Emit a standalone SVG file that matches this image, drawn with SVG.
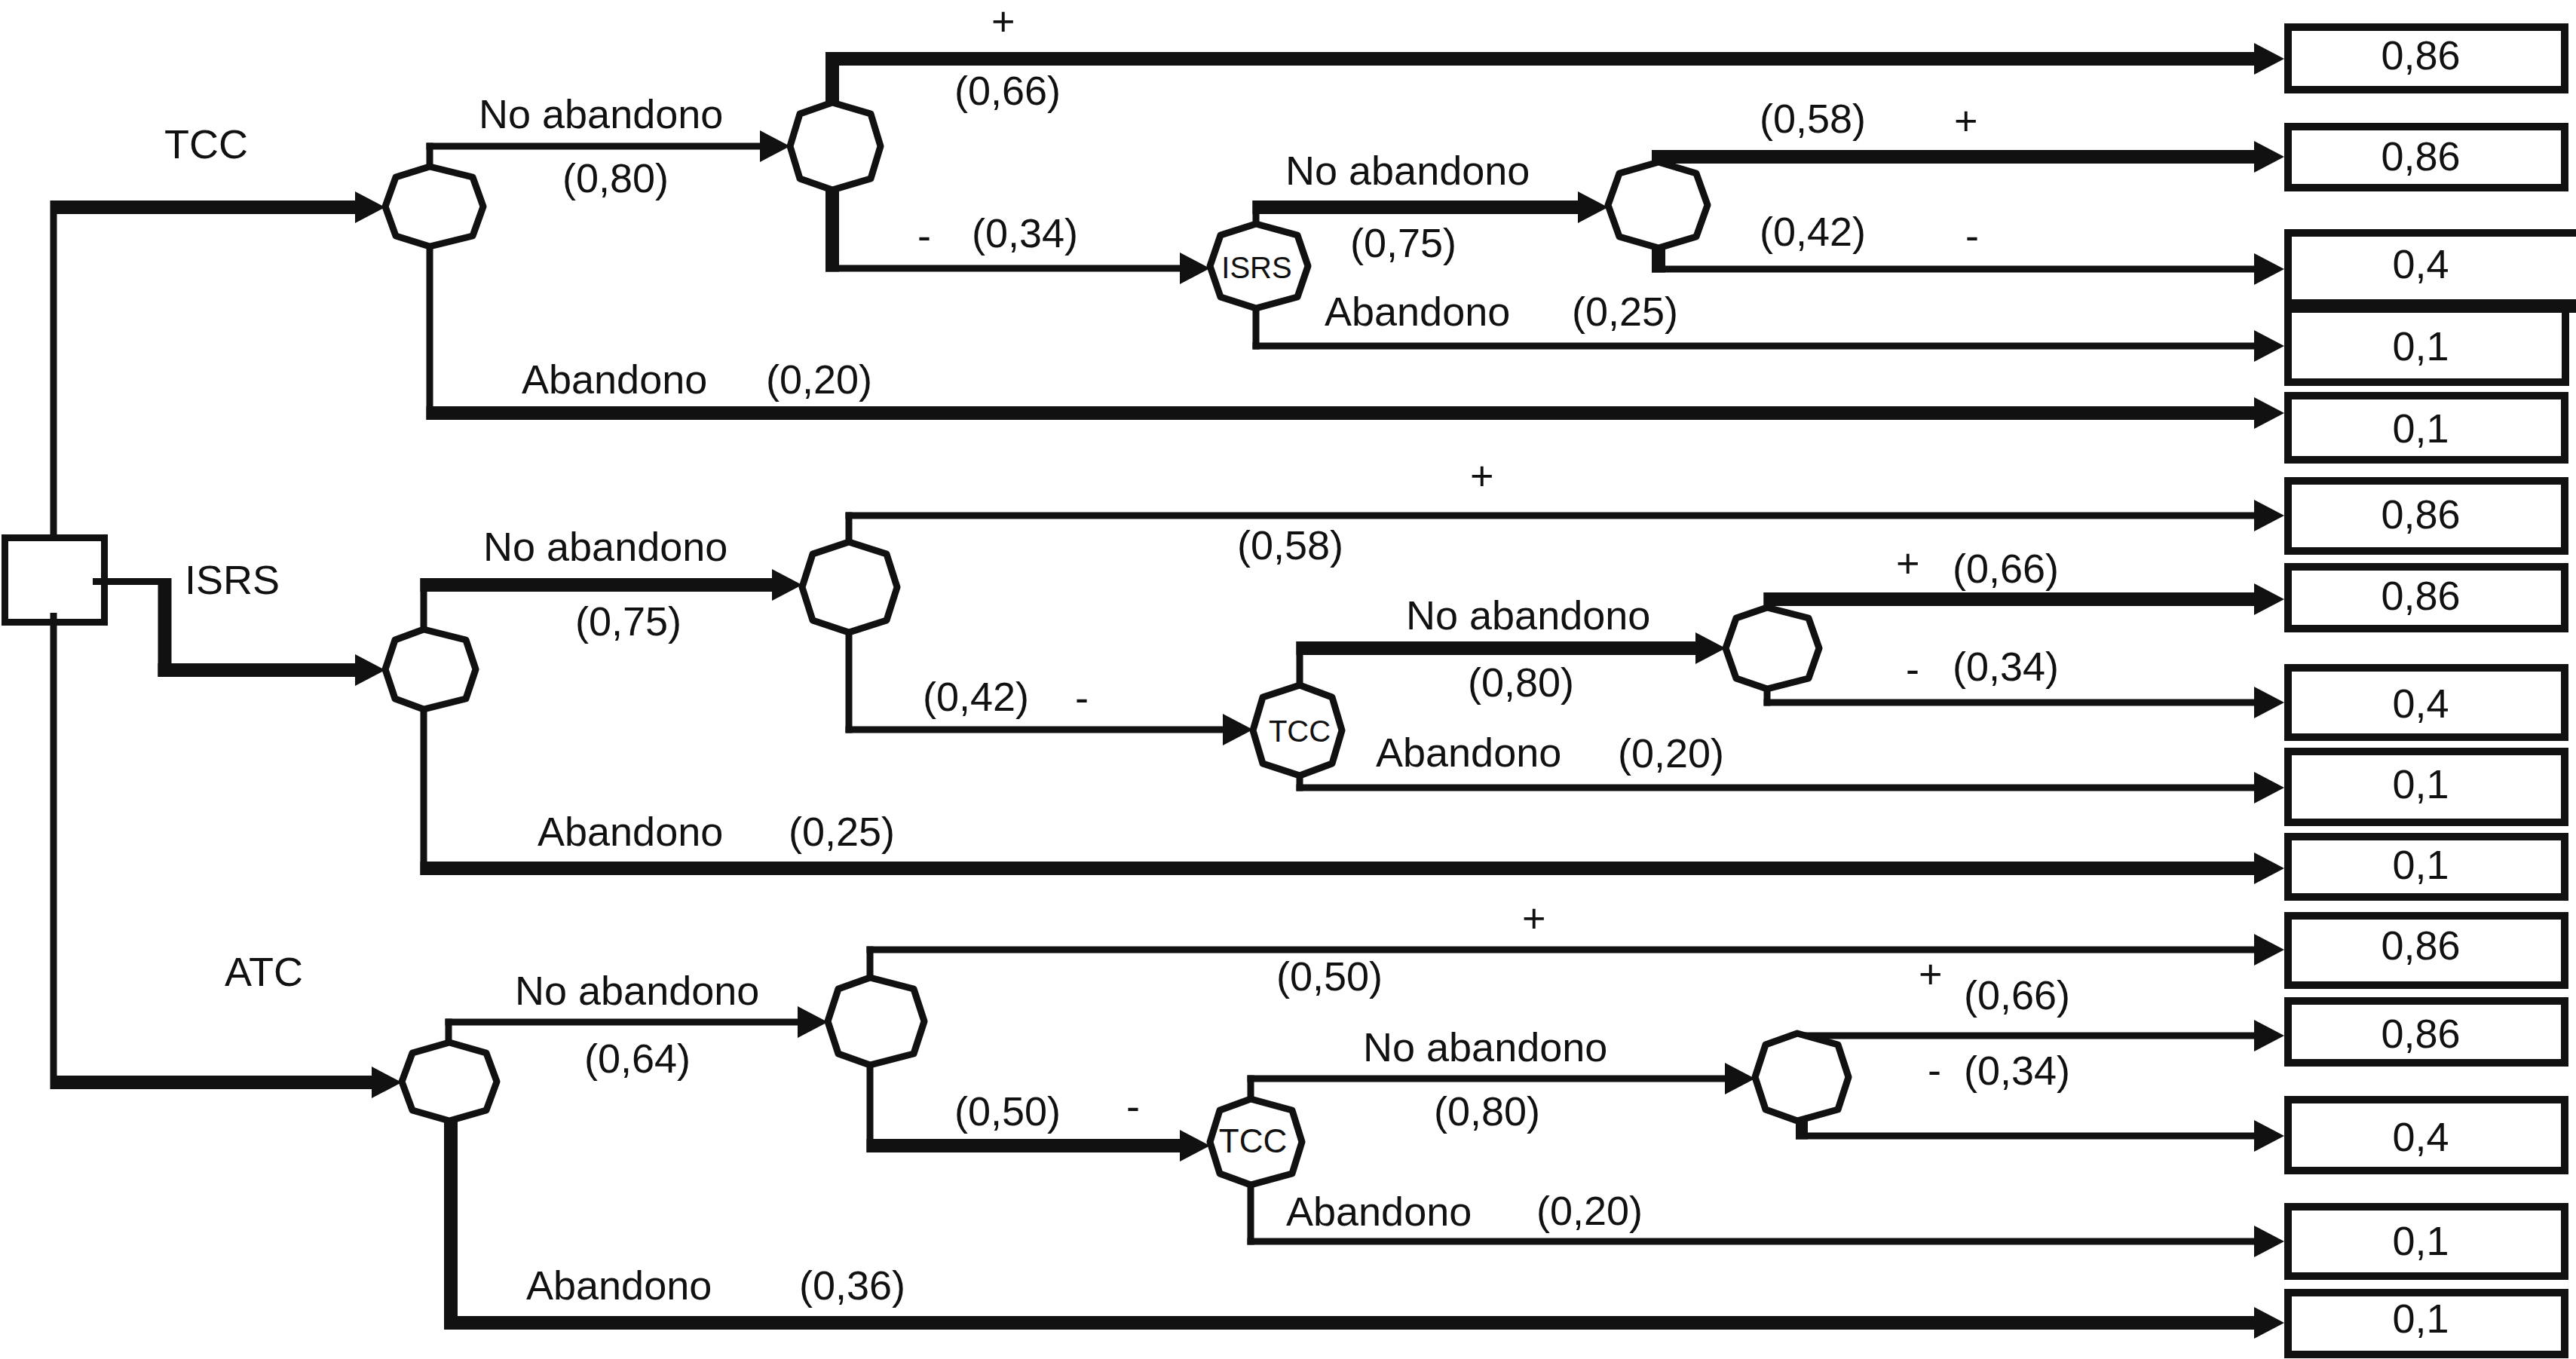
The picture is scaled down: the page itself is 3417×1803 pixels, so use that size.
<svg xmlns="http://www.w3.org/2000/svg" width="3417" height="1803" viewBox="0 0 3417 1803">
<style>
.tn{fill:none;stroke:#111;stroke-width:9}
.tk{fill:none;stroke:#111;stroke-width:18}
.ar{marker-end:url(#ah)}
.nd{fill:#fff;stroke:#111;stroke-width:9;stroke-linejoin:round}
.bx{fill:#fff;stroke:#111;stroke-width:10}
text{font-family:"Liberation Sans",Arial,sans-serif;fill:#111}
.lb{font-size:54px}
.bt{font-size:54px;text-anchor:middle}
.nt{font-size:40px;text-anchor:middle}
</style>
<defs>
<marker id="ah" markerUnits="userSpaceOnUse" markerWidth="40" markerHeight="42" viewBox="0 0 40 42" refX="15" refY="21" orient="auto">
<path d="M0,0 L40,21 L0,42 Z" fill="#111"/>
</marker>
</defs>
<rect width="3417" height="1803" fill="#fff"/>
<g id="connectors">
<path class="tn" d="M71,266 V714"/>
<path class="tk ar" d="M67,275 H486"/>
<path class="tn" d="M570,274 V189.5"/><path class="tn ar" d="M565.5,194 H1023"/>
<path class="tn" d="M570,274 V557"/><path class="tk ar" d="M565.5,548 H3005"/>
<path class="tk" d="M1104,194 V69"/><path class="tk ar" d="M1095,78 H3005"/>
<path class="tk" d="M1104,194 V360.5"/><path class="tn ar" d="M1095,356 H1580"/>
<path class="tn" d="M1666,353 V266"/><path class="tk ar" d="M1661.5,275 H2108"/>
<path class="tn" d="M1666,353 V463.5"/><path class="tn ar" d="M1661.5,459 H3005"/>
<path class="tk" d="M2200,272 V199"/><path class="tk ar" d="M2191,208 H3005"/>
<path class="tk" d="M2200,272 V361.5"/><path class="tn ar" d="M2191,357 H3005"/>
<path class="tn" d="M71,813 V1445"/>
<path class="tn" d="M123,771.5 H227"/><path class="tk" d="M218.5,767 V898"/><path class="tk ar" d="M209.5,889 H486"/>
<path class="tn" d="M562,888 V767"/><path class="tk ar" d="M557.5,776 H1039"/>
<path class="tn" d="M562,888 V1161"/><path class="tk ar" d="M557.5,1152 H3005"/>
<path class="tn" d="M1126,779 V679.5"/><path class="tn ar" d="M1121.5,684 H3005"/>
<path class="tn" d="M1126,779 V972.5"/><path class="tn ar" d="M1121.5,968 H1637"/>
<path class="tn" d="M1724,969 V851"/><path class="tk ar" d="M1719.5,860 H2264"/>
<path class="tn" d="M1724,969 V1049.5"/><path class="tn ar" d="M1719.5,1045 H3005"/>
<path class="tn" d="M2344,860 V786"/><path class="tk ar" d="M2339.5,795 H3005"/>
<path class="tn" d="M2344,860 V936.5"/><path class="tn ar" d="M2339.5,932 H3005"/>
<path class="tk ar" d="M67,1436 H508"/>
<path class="tn" d="M595,1435 V1351.5"/><path class="tn ar" d="M590.5,1356 H1073"/>
<path class="tk" d="M598,1435 V1764"/><path class="tk ar" d="M589,1755 H3005"/>
<path class="tn" d="M1154,1355 V1255.5"/><path class="tn ar" d="M1149.5,1260 H3005"/>
<path class="tn" d="M1154,1355 V1529"/><path class="tk ar" d="M1149.5,1520 H1580"/>
<path class="tn" d="M1659,1515 V1426.5"/><path class="tn ar" d="M1654.5,1431 H2303"/>
<path class="tn" d="M1659,1515 V1651.5"/><path class="tn ar" d="M1654.5,1647 H3005"/>
<path class="tn" d="M2384,1429 V1369.5"/><path class="tn ar" d="M2379.5,1374 H3005"/>
<path class="tk" style="stroke-width:16" d="M2390,1429 V1511.5"/><path class="tn ar" d="M2382,1507 H3005"/>
</g>
<g id="decision"><rect x="6.5" y="713.5" width="132" height="112" fill="#fff" stroke="#111" stroke-width="9"/><path class="tn" d="M71,813 V826"/><path class="tn" d="M123,771.5 H140"/></g>
<g id="nodeA1"><polygon class="nd" points="511,274 525,235 570,221 627,235 641,274 627,313 570,327 525,313"/></g>
<g id="nodeA2"><polygon class="nd" points="1048,194 1061,151 1104,136 1155,151 1168,194 1155,237 1104,252 1061,237"/></g>
<g id="nodeA-ISRS"><polygon class="nd" points="1605,353 1619,312 1666,297 1721,312 1735,353 1721,394 1666,409 1619,394"/><text class="nt" x="1667" y="369">ISRS</text></g>
<g id="nodeA3"><polygon class="nd" points="2133,272 2148,230 2200,215 2250,230 2265,272 2250,314 2200,329 2148,314"/></g>
<g id="nodeB1"><polygon class="nd" points="511,888 524,849 562,835 618,849 631,888 618,927 562,941 524,927"/></g>
<g id="nodeB2"><polygon class="nd" points="1064,779 1078,735 1126,719 1176,735 1190,779 1176,823 1126,839 1078,823"/></g>
<g id="nodeB-TCC"><polygon class="nd" points="1662,969 1675,925 1724,909 1767,925 1780,969 1767,1013 1724,1029 1675,1013"/><text class="nt" x="1724" y="984">TCC</text></g>
<g id="nodeB3"><polygon class="nd" points="2289,860 2303,820 2344,806 2399,820 2413,860 2399,900 2344,914 2303,900"/></g>
<g id="nodeC1"><polygon class="nd" points="533,1435 547,1397 596,1383 645,1397 659,1435 645,1473 596,1487 547,1473"/></g>
<g id="nodeC2"><polygon class="nd" points="1098,1355 1112,1312 1154,1297 1212,1312 1226,1355 1212,1398 1154,1413 1112,1398"/></g>
<g id="nodeC-TCC"><polygon class="nd" points="1605,1515 1618,1473 1659,1458 1714,1473 1727,1515 1714,1557 1659,1572 1618,1557"/><text class="nt" x="1662" y="1529" style="font-size:44px">TCC</text></g>
<g id="nodeC3"><polygon class="nd" points="2328,1429 2342,1386 2384,1371 2438,1386 2452,1429 2438,1472 2384,1487 2342,1472"/></g>
<g id="box1"><rect class="bx" x="3035" y="36" width="367" height="83"/><text class="bt" x="3211" y="92">0,86</text></g>
<g id="box2"><rect class="bx" x="3035" y="168" width="367" height="81"/><text class="bt" x="3211" y="226">0,86</text></g>
<g id="box3"><rect class="bx" x="3035" y="309" width="390" height="97"/><text class="bt" x="3211" y="369">0,4</text></g>
<g id="box4"><rect class="bx" x="3035" y="402" width="368" height="105"/><rect x="3030" y="397" width="387" height="18" fill="#111"/><text class="bt" x="3211" y="478">0,1</text></g>
<g id="box5"><rect class="bx" x="3035" y="525" width="367" height="85"/><text class="bt" x="3211" y="587">0,1</text></g>
<g id="box6"><rect class="bx" x="3035" y="638" width="367" height="93"/><text class="bt" x="3211" y="701">0,86</text></g>
<g id="box7"><rect class="bx" x="3035" y="752" width="367" height="82"/><text class="bt" x="3211" y="809">0,86</text></g>
<g id="box8"><rect class="bx" x="3035" y="886" width="367" height="92"/><text class="bt" x="3211" y="952">0,4</text></g>
<g id="box9"><rect class="bx" x="3035" y="997" width="367" height="94"/><text class="bt" x="3211" y="1059">0,1</text></g>
<g id="box10"><rect class="bx" x="3035" y="1110" width="367" height="80"/><text class="bt" x="3211" y="1166">0,1</text></g>
<g id="box11"><rect class="bx" x="3035" y="1215" width="367" height="92"/><text class="bt" x="3211" y="1273">0,86</text></g>
<g id="box12"><rect class="bx" x="3035" y="1328" width="367" height="82"/><text class="bt" x="3211" y="1390">0,86</text></g>
<g id="box13"><rect class="bx" x="3035" y="1459" width="367" height="94"/><text class="bt" x="3211" y="1527">0,4</text></g>
<g id="box14"><rect class="bx" x="3035" y="1601" width="367" height="92"/><text class="bt" x="3211" y="1665">0,1</text></g>
<g id="box15"><rect class="bx" x="3035" y="1715" width="367" height="82"/><text class="bt" x="3211" y="1768">0,1</text></g>
<g id="labels">
<text class="lb" x="218" y="210">TCC</text>
<text class="lb" x="635" y="170">No abandono</text>
<text class="lb" x="746" y="255">(0,80)</text>
<text class="lb" x="1315" y="47">+</text>
<text class="lb" x="1266" y="139">(0,66)</text>
<text class="lb" x="1217" y="331">-</text>
<text class="lb" x="1289" y="328">(0,34)</text>
<text class="lb" x="1705" y="245">No abandono</text>
<text class="lb" x="1791" y="341">(0,75)</text>
<text class="lb" x="1757" y="432">Abandono</text>
<text class="lb" x="2085" y="432">(0,25)</text>
<text class="lb" x="2334" y="176">(0,58)</text>
<text class="lb" x="2592" y="179">+</text>
<text class="lb" x="2334" y="326">(0,42)</text>
<text class="lb" x="2607" y="331">-</text>
<text class="lb" x="692" y="522">Abandono</text>
<text class="lb" x="1016" y="522">(0,20)</text>
<text class="lb" x="245" y="788">ISRS</text>
<text class="lb" x="641" y="744">No abandono</text>
<text class="lb" x="763" y="843">(0,75)</text>
<text class="lb" x="713" y="1122">Abandono</text>
<text class="lb" x="1046" y="1122">(0,25)</text>
<text class="lb" x="1950" y="650">+</text>
<text class="lb" x="1641" y="742">(0,58)</text>
<text class="lb" x="1224" y="943">(0,42)</text>
<text class="lb" x="1426" y="944">-</text>
<text class="lb" x="1865" y="835">No abandono</text>
<text class="lb" x="1947" y="924">(0,80)</text>
<text class="lb" x="1825" y="1017">Abandono</text>
<text class="lb" x="2146" y="1018">(0,20)</text>
<text class="lb" x="2515" y="766">+</text>
<text class="lb" x="2590" y="773">(0,66)</text>
<text class="lb" x="2528" y="906">-</text>
<text class="lb" x="2590" y="903">(0,34)</text>
<text class="lb" x="298" y="1308">ATC</text>
<text class="lb" x="683" y="1333">No abandono</text>
<text class="lb" x="775" y="1423">(0,64)</text>
<text class="lb" x="698" y="1724">Abandono</text>
<text class="lb" x="1060" y="1724">(0,36)</text>
<text class="lb" x="2019" y="1237">+</text>
<text class="lb" x="1693" y="1314">(0,50)</text>
<text class="lb" x="1266" y="1493">(0,50)</text>
<text class="lb" x="1494" y="1486">-</text>
<text class="lb" x="1808" y="1408">No abandono</text>
<text class="lb" x="1902" y="1493">(0,80)</text>
<text class="lb" x="1706" y="1626">Abandono</text>
<text class="lb" x="2038" y="1625">(0,20)</text>
<text class="lb" x="2545" y="1311">+</text>
<text class="lb" x="2605" y="1339">(0,66)</text>
<text class="lb" x="2557" y="1438">-</text>
<text class="lb" x="2605" y="1439">(0,34)</text>
</g>
</svg>
